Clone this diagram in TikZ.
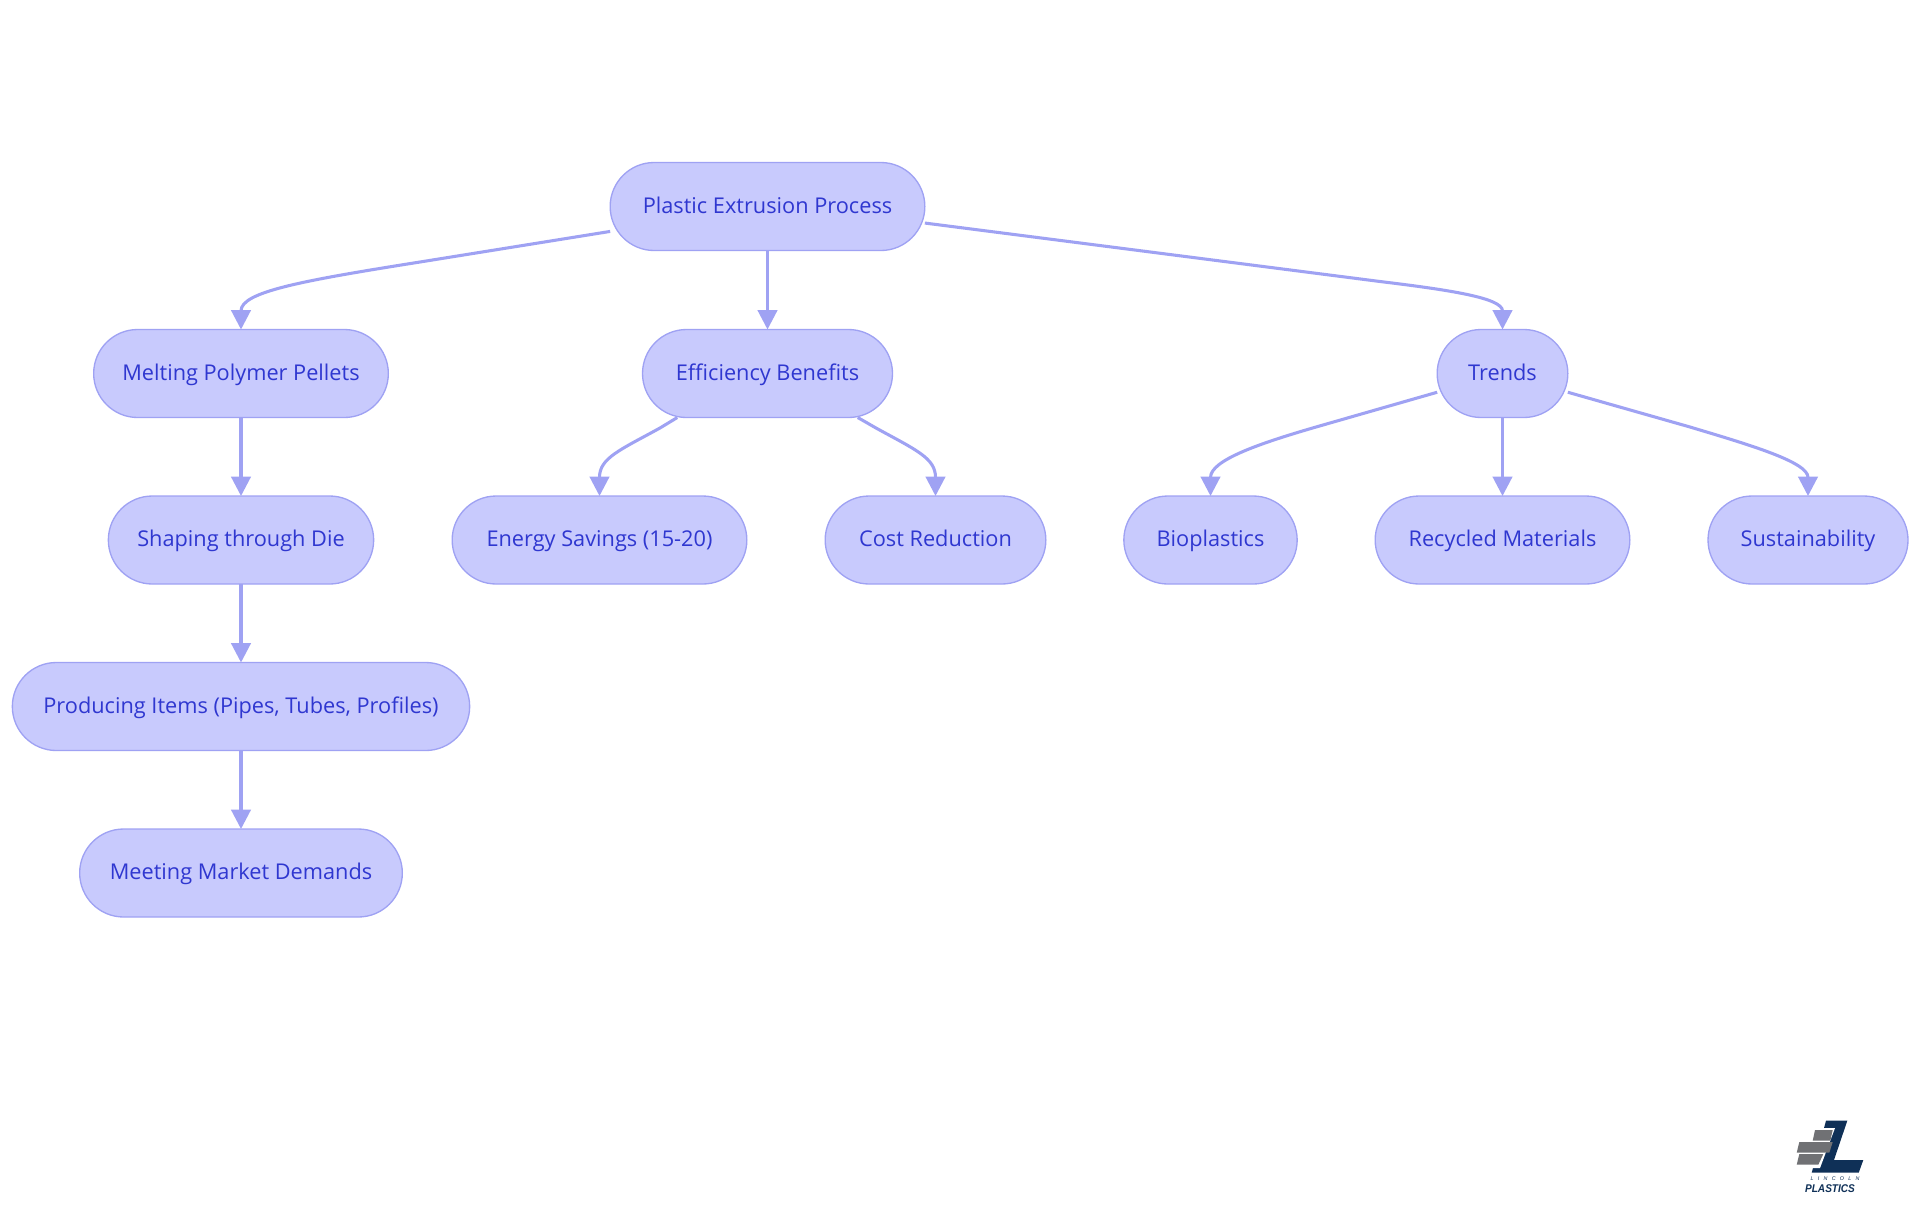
\documentclass[tikz,border=0pt]{standalone}
\usepackage{fontspec}
\setmainfont{Open Sans}
\newfontfamily\logofont[FakeStretch=0.9]{Liberation Sans}
\newfontfamily\logospaced[LetterSpace=80]{Liberation Sans}
\usetikzlibrary{arrows.meta}

\definecolor{boxfill}{HTML}{C8CAFD}
\definecolor{boxline}{HTML}{9FA2F3}
\definecolor{boxtext}{HTML}{2F37D0}
\definecolor{logonavy}{HTML}{0F3057}
\definecolor{logogrey}{HTML}{707174}

\tikzset{
	box/.style={draw=boxline, fill=boxfill, text=boxtext, line width=1pt, rounded corners=33pt,
		minimum height=66pt, inner sep=0pt, outer sep=0pt, text height=13pt, text depth=2.8pt,
		font=\fontsize{16.3pt}{18pt}\selectfont},
	edge/.style={draw=boxline, line width=2.3pt, -{Triangle[length=14.5pt, width=14.5pt]}},
	brick/.style={fill=logogrey}
}

\begin{document}
\begin{tikzpicture}[x=0.75pt, y=-0.75pt]

\def\rowa{206.5}
\def\rowb{373.5}
\def\rowc{540}
\def\rowd{706.5}
\def\rowe{873}

\path [use as bounding box] (0,0) rectangle (1920,1215);

% NODES
\node [box, minimum width=236pt] (root) at (767.5,\rowa) {Plastic Extrusion Process};
\node [box, minimum width=221pt] (melt) at (241,\rowb) {Melting Polymer Pellets};
\node [box, minimum width=187.5pt] (benefit) at (767.5,\rowb) {Efficiency Benefits};
\node [box, minimum width=98pt] (trends) at (1502.5,\rowb) {Trends};
\node [box, minimum width=199pt] (shaping) at (241,\rowc) {Shaping through Die};
\node [box, minimum width=221pt] (energy) at (599.5,\rowc) {Energy Savings (15-20)};
\node [box, minimum width=165.5pt] (cost) at (935.5,\rowc) {Cost Reduction};
\node [box, minimum width=130pt] (bio) at (1210.5,\rowc) {Bioplastics};
\node [box, minimum width=191pt] (recycled) at (1502.5,\rowc) {Recycled Materials};
\node [box, minimum width=150pt] (sustain) at (1808,\rowc) {Sustainability};
\node [box, minimum width=343pt] (items) at (241,\rowd) {Producing Items (Pipes, Tubes, Profiles)};
\node [box, minimum width=242pt] (market) at (241,\rowe) {Meeting Market Demands};

% STRAIGHT EDGES
\foreach \a/\b in {root/benefit, melt/shaping, shaping/items, items/market, trends/recycled}
	\draw [edge] (\a) -- (\b);

% CURVED EDGES
\draw [edge] (root.189.2) -- (420,262) .. controls (300,281) and (241,292) .. (melt.north);
\draw [edge] (root.-6.5) -- (1380,281.5) .. controls (1450,290) and (1502.5,298) .. (trends.north);
\draw [edge] (benefit.206.2) -- (660,428) .. controls (620,450) and (599.5,458) .. (energy.north);
\draw [edge] (benefit.-26.2) -- (876,428) .. controls (916,450) and (935.5,458) .. (cost.north);
\draw [edge] (trends.196.2) -- (1323,425) .. controls (1260,443) and (1210.5,460) .. (bio.north);
\draw [edge] (trends.-16.2) -- (1690,427) .. controls (1750,445) and (1808,462) .. (sustain.north);

% LOGO
\fill [logonavy] (1826,1120.7) -- (1847.3,1120.7) -- (1834,1160) -- (1863.3,1160) -- (1858.7,1172.7) -- (1811.7,1172.7) -- cycle;
\fill [white] (1812,1128) -- (1835,1128) -- (1820,1168) -- (1795,1168) -- cycle;
\fill [brick] (1815,1130) -- (1832.7,1130) -- (1830.3,1140.7) -- (1812.7,1140.7) -- cycle;
\fill [brick] (1799.3,1142) -- (1832.7,1142) -- (1829.3,1152.7) -- (1796.7,1152.7) -- cycle;
\fill [brick] (1799.3,1154) -- (1823.3,1154) -- (1818.3,1164.7) -- (1796.7,1164.7) -- cycle;
\node [inner sep=0pt, text=logonavy, font=\logospaced\fontsize{4pt}{4pt}\selectfont\itshape] (lincoln) at (1835,1178.7) {LINCOLN};
\node [inner sep=0pt, text=logonavy, font=\logofont\fontsize{8.4pt}{10pt}\selectfont\bfseries\itshape] (plastics) at (1830,1188.7) {PLASTICS};

\end{tikzpicture}
\end{document}
